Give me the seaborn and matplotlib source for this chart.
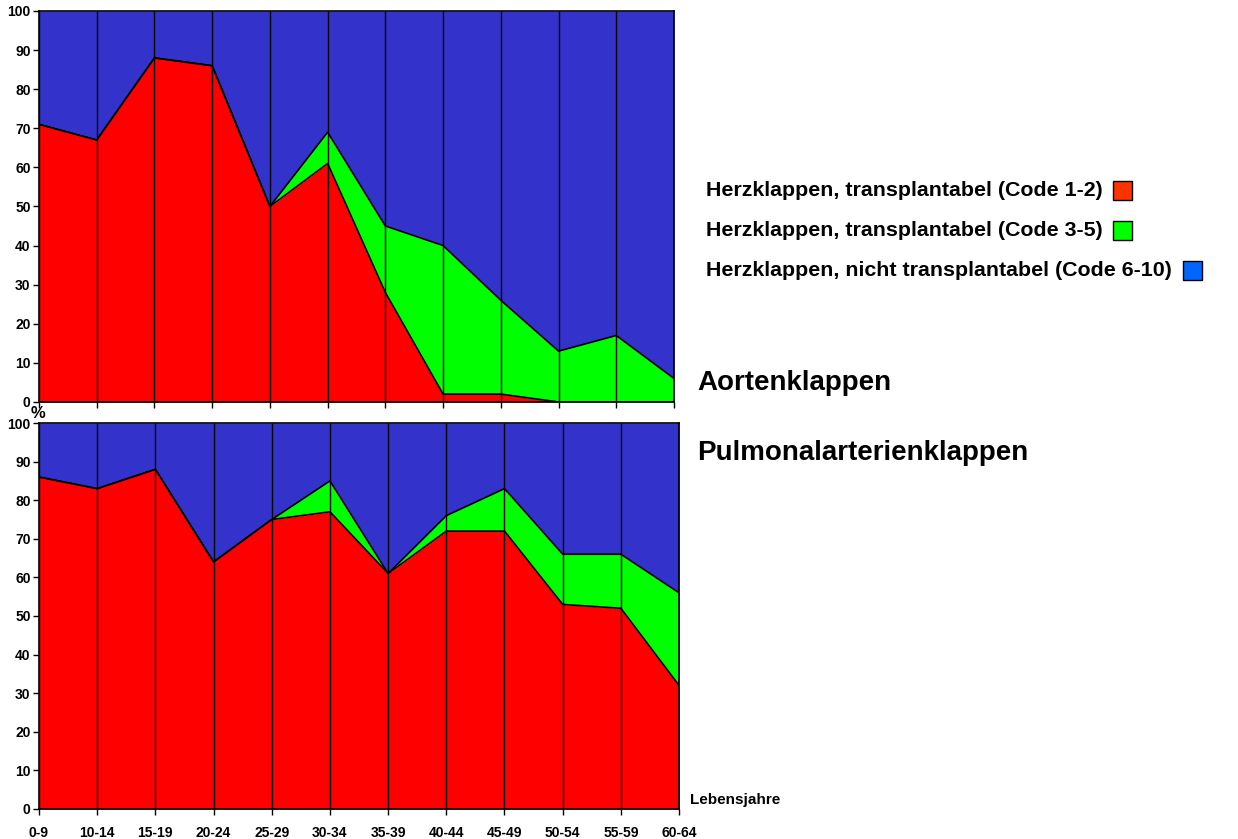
"""
Herzklappen nach Lebensjahren: Aorten- und Pulmonalarterienklappen,
gestapelte Flaechen in Prozent.
"""

import numpy as np
import pandas as pd
import matplotlib
matplotlib.use('Agg')
import matplotlib.pyplot as plt
import seaborn as sns
from matplotlib.patches import Rectangle

sns.set_theme(style='white')
plt.rcParams.update({
    'font.family': ['Liberation Sans', 'DejaVu Sans'],
    'font.weight': 'bold',
    'text.color': 'black',
    'xtick.color': 'black',
    'ytick.color': 'black',
    'axes.edgecolor': 'black',
    'axes.linewidth': 1.2,
})

RED   = '#FF0000'
GREEN = '#00FF00'
BLUE  = '#3333CC'

ages = ['0-9', '10-14', '15-19', '20-24', '25-29', '30-34',
        '35-39', '40-44', '45-49', '50-54', '55-59', '60-64']

# Aortenklappen (Prozent)
aorta_code12 = [71, 67, 88, 86, 50, 61, 28, 2, 2, 0, 0, 0]
aorta_code35 = [0, 0, 0, 0, 0, 8, 17, 38, 24, 13, 17, 6]

# Pulmonalarterienklappen (Prozent)
pulm_code12 = [86, 83, 88, 64, 75, 77, 61, 72, 72, 53, 52, 32]
pulm_code35 = [0, 0, 0, 0, 0, 8, 0, 4, 11, 13, 14, 24]

legend_labels = ['Herzklappen, transplantabel (Code 1-2)',
                 'Herzklappen, transplantabel (Code 3-5)',
                 'Herzklappen, nicht transplantabel (Code 6-10)']
legend_colors = ['#FF3300', '#00FF00', '#0066FF']


def draw_panel(ax, code12, code35, show_labels):
    df = pd.DataFrame({'x': np.arange(len(ages)), 'red': code12, 'green': code35})
    df['top'] = df['red'] + df['green']
    ax.fill_between(df['x'], 0, df['red'], color=RED, lw=0)
    ax.fill_between(df['x'], df['red'], df['top'], color=GREEN, lw=0)
    ax.fill_between(df['x'], df['top'], 100, color=BLUE, lw=0)
    sns.lineplot(data=df, x='x', y='red', color='black', lw=1.2, ax=ax)
    sns.lineplot(data=df, x='x', y='top', color='black', lw=1.2, ax=ax)
    ax.vlines(df['x'], 0, 100, color='black', lw=1.0)
    ax.set_xlim(0, len(ages) - 1)
    ax.set_ylim(0, 100)
    ax.set_yticks(range(0, 101, 10))
    ax.set_xticks(df['x'])
    ax.set_xticklabels(ages if show_labels else [])
    ax.set_xlabel('')
    ax.set_ylabel('')
    ax.tick_params(axis='both', which='both', direction='out', length=4,
                   width=1, color='black', labelsize=10, bottom=True, left=True)
    ax.tick_params(axis='x', pad=8)
    ax.tick_params(axis='y', pad=2)
    for lab in ax.get_xticklabels() + ax.get_yticklabels():
        lab.set_fontweight('bold')
    for s in ax.spines.values():
        s.set_visible(True)
        s.set_color('black')


fig = plt.figure(figsize=(12.38, 8.39), dpi=100)
ax1 = fig.add_axes([0.0315, 0.5209, 0.5129, 0.466])
ax2 = fig.add_axes([0.0315, 0.0358, 0.517, 0.46])

draw_panel(ax1, aorta_code12, aorta_code35, False)
draw_panel(ax2, pulm_code12, pulm_code35, True)

fig.text(0.031, 0.507, '%', fontsize=12, fontweight='bold', ha='center', va='center')
fig.text(0.557, 0.046, 'Lebensjahre', fontsize=11, fontweight='bold', ha='left', va='center')
fig.text(0.563, 0.543, 'Aortenklappen', fontsize=20, fontweight='bold', ha='left', va='center')
fig.text(0.563, 0.460, 'Pulmonalarterienklappen', fontsize=20, fontweight='bold', ha='left', va='center')

# Legende mit Farbkaestchen rechts vom Text
leg_y = [0.7735, 0.7247, 0.678]
for lab, col, y in zip(legend_labels, legend_colors, leg_y):
    t = fig.text(0.570, y, lab, fontsize=15.4, fontweight='bold', ha='left', va='center')
    fig.canvas.draw()
    bb = t.get_window_extent().transformed(fig.transFigure.inverted())
    w, h = 19 / 1238, 19 / 839
    fig.patches.append(Rectangle((bb.x1 + 11 / 1238, y - h / 2), w, h,
                                 transform=fig.transFigure, facecolor=col,
                                 edgecolor='black', lw=1))

fig.savefig('out.png', dpi=100)
